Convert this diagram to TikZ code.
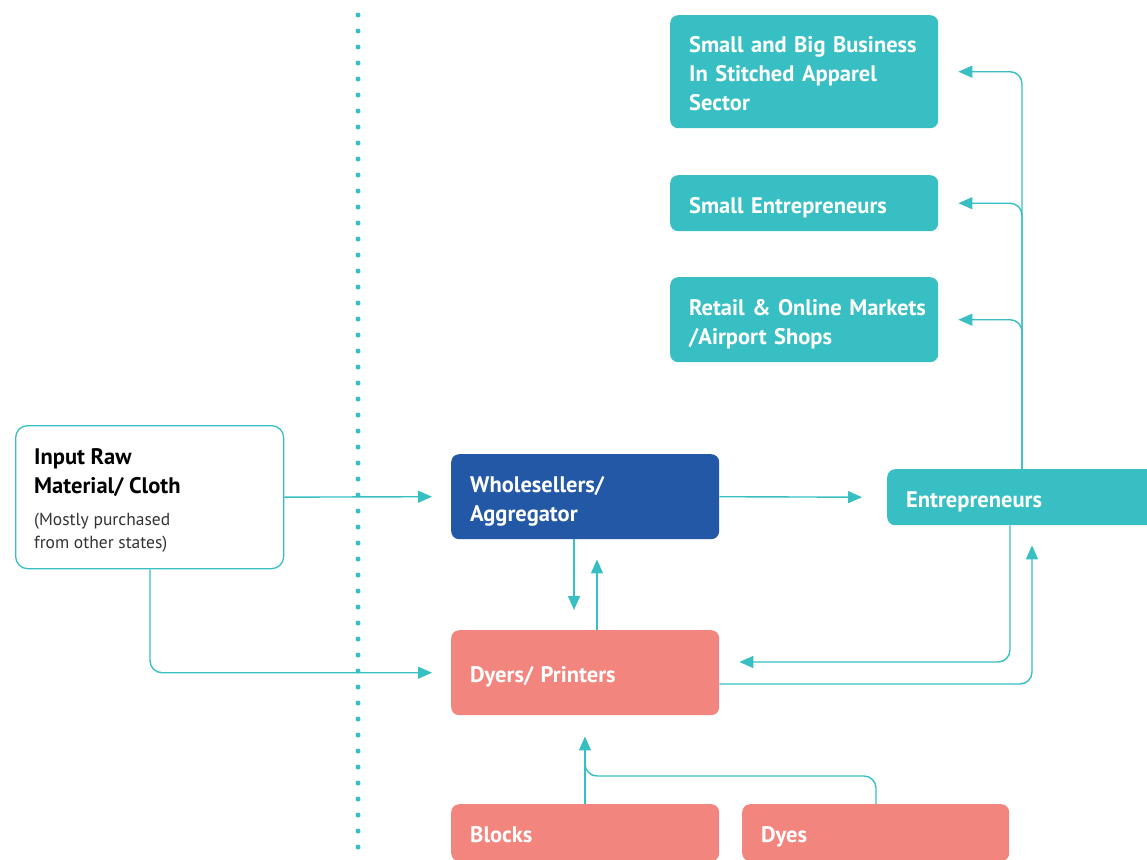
\documentclass[tikz,border=0pt]{standalone}
\usepackage{fontspec}
\setmainfont{PT Sans}
\usetikzlibrary{arrows.meta,calc}
\definecolor{teal}{HTML}{37BFC3}
\definecolor{dblue}{HTML}{2258A5}
\definecolor{salmon}{HTML}{F3857F}
\definecolor{subgray}{HTML}{333333}
\newcommand\myboxstart{\hyphenpenalty=10000\relax\exhyphenpenalty=10000\relax\rightskip=-25pt plus 1fil\relax\rule{0pt}{26pt}}
\newcommand\myboxend{\rule[-5.6pt]{0pt}{5.6pt}}
\tikzset{
  box/.style={rectangle, rounded corners=8pt, anchor=north west, inner xsep=19pt, inner ysep=0pt, align=left,
    font=\fontsize{22.5}{29}\selectfont\bfseries, text=white,
    execute at begin node=\myboxstart, execute at end node=\myboxend},
  tealbox/.style={box, fill=teal},
  bluebox/.style={box, fill=dblue},
  salmonbox/.style={box, fill=salmon},
  inbox/.style={rectangle, anchor=north west, fill=white, draw=teal, line width=1.3pt, rounded corners=12pt},
  lbl/.style={anchor=north west, inner sep=0pt, align=left},
  conn/.style={draw=teal, line width=1.4pt, rounded corners=12pt},
  arr/.style={conn, -{Triangle[length=14pt,width=12pt]}},
}
\begin{document}
\begin{tikzpicture}[x=1pt,y=-1pt]
\useasboundingbox (0,0) rectangle (1147,859);
\clip (0,0) rectangle (1147,859);
% dotted divider
\draw[teal, line width=5pt, line cap=round, dash pattern=on 0pt off 16pt] (358,15) -- (358,860);
% nodes
\node[inbox, minimum width=268pt, minimum height=143pt] (inp) at (15,425) {};
\node[lbl, font=\fontsize{22.5}{29}\selectfont\bfseries, text=black] (inpT) at (34,448) {Input Raw\\Material/ Cloth};
\node[lbl, font=\fontsize{17.5}{23}\selectfont, text=subgray] (inpS) at (34,513) {(Mostly purchased\\from other states)};
\node[bluebox, minimum width=268pt, minimum height=85pt, text width=230pt] (wh) at (451,454) {Wholesellers/\\Aggregator};
\node[salmonbox, minimum width=268pt, minimum height=85pt, text width=230pt] (dy) at (451,630) {Dyers/ Printers};
\node[salmonbox, minimum width=268pt, minimum height=57pt, text width=230pt] (bl) at (451,804) {Blocks};
\node[salmonbox, minimum width=267pt, minimum height=57pt, text width=229pt] (ds) at (742,804) {Dyes};
\node[tealbox, minimum width=290pt, minimum height=56pt, text width=252pt] (ent) at (887,469) {Entrepreneurs};
\node[tealbox, minimum width=268pt, minimum height=113pt, text width=230pt] (sbb) at (670,15) {Small and Big Business\\In Stitched Apparel\\Sector};
\node[tealbox, minimum width=268pt, minimum height=56pt, text width=230pt] (se) at (670,175) {Small Entrepreneurs};
\node[tealbox, minimum width=268pt, minimum height=85pt, text width=230pt] (ret) at (670,277) {Retail \& Online Markets\\/Airport Shops};
% helper coordinates
\coordinate (entTop) at ($(ent.north west)+(135,0)$);
\coordinate (entBotA) at ($(ent.south west)+(123,0)$);
\coordinate (entBotB) at ($(ent.south west)+(145,20)$);
\coordinate (sbbT) at ($(sbb.east)+(20,0)$);
\coordinate (seT) at ($(se.east)+(20,0)$);
\coordinate (retT) at ($(ret.east)+(20,0)$);
\coordinate (whIn) at ($(wh.west)+(-19,0)$);
\coordinate (entIn) at ($(ent.west)+(-25,0)$);
\coordinate (dyIn) at ($(dy.west)+(-19,0)$);
\coordinate (dyInR) at ($(dy.north east)+(20,32)$);
\coordinate (dyOutR) at ($(dy.north east)+(0,54)$);
\coordinate (whDownS) at ($(wh.south west)+(123,0)$);
\coordinate (whDownT) at ($(dy.north west)+(123,-20)$);
\coordinate (whUpS) at ($(dy.north west)+(146,0)$);
\coordinate (whUpT) at ($(wh.south west)+(146,20)$);
\coordinate (blTop) at ($(bl.north west)+(134,0)$);
\coordinate (blTip) at ($(dy.south west)+(134,21)$);
\coordinate (dsTop) at ($(ds.north west)+(134,0)$);
\coordinate (inpBot) at ($(inp.south west)+(135,0)$);
% connectors
\draw[arr] (inp.east) -- (whIn);
\draw[arr] (inpBot) |- (dyIn);
\draw[arr] (wh.east) -- (entIn);
\draw[arr] (whDownS) -- (whDownT);
\draw[arr] (whUpS) -- (whUpT);
\draw[arr] (entBotA) |- (dyInR);
\draw[arr] (dyOutR) -| (entBotB);
\draw[arr] (entTop) |- (sbbT);
\draw[arr] (entTop) |- (seT);
\draw[arr] (entTop) |- (retT);
\draw[arr] (blTop) -- (blTip);
\draw[conn] (dsTop) -- ++(0,-28) -| ($(blTop)+(0,-50)$);
\end{tikzpicture}
\end{document}
